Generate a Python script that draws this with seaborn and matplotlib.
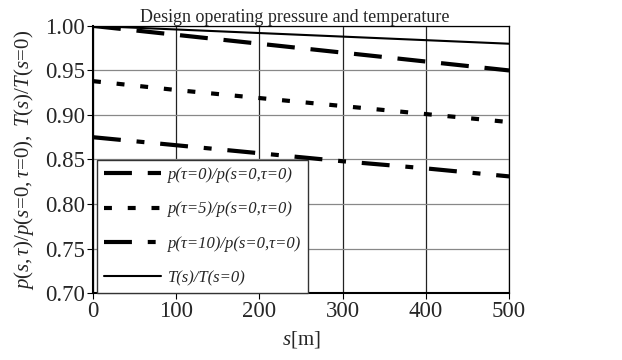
import pandas as pd
import matplotlib.pyplot as plt
import seaborn as sns

# distance along pipeline [m]
s_m = [0, 100, 200, 300, 400, 500]
p_tau0 = [1.000, 0.990, 0.980, 0.970, 0.960, 0.950]
p_tau5 = [0.938, 0.928, 0.919, 0.910, 0.901, 0.892]
p_tau10 = [0.875, 0.866, 0.857, 0.848, 0.840, 0.831]
t_ratio = [1.000, 0.996, 0.992, 0.988, 0.984, 0.980]

labels = ['p(τ=0)/p(s=0,τ=0)', 'p(τ=5)/p(s=0,τ=0)', 'p(τ=10)/p(s=0,τ=0)', 'T(s)/T(s=0)']

sns.set_style('ticks')
plt.rcParams['font.family'] = ['Liberation Serif', 'DejaVu Serif']
plt.rcParams['mathtext.fontset'] = 'custom'
plt.rcParams['mathtext.rm'] = 'Liberation Serif'
plt.rcParams['mathtext.it'] = 'Liberation Serif:italic'

fig = plt.figure(figsize=(6.22, 3.6), dpi=100)
ax = fig.add_axes([0.1495, 0.186, 0.669, 0.742])

styles = [
    dict(lw=3.0, dashes=(6.7, 3.8)),
    dict(lw=3.0, dashes=(1.9, 3.8)),
    dict(lw=3.0, dashes=(6.7, 3.8, 1.9, 3.8)),
    dict(lw=1.5, dashes=()),
]
for vals, lab, st in zip([p_tau0, p_tau5, p_tau10, t_ratio], labels, styles):
    df = pd.DataFrame({'s': s_m, 'v': vals})
    sns.lineplot(data=df, x='s', y='v', ax=ax, color='black', lw=st['lw'], label=lab)
    ln = ax.get_lines()[-1]
    if st['dashes']:
        ln.set_dashes(st['dashes'])
    ln.set_dash_capstyle('butt')

ax.set_xlim(0, 500)
ax.set_ylim(0.70, 1.00)
ax.set_xticks([0, 100, 200, 300, 400, 500])
ax.set_yticks([0.70, 0.75, 0.80, 0.85, 0.90, 0.95, 1.00])
ax.set_yticklabels([f'{v:.2f}' for v in ax.get_yticks()])
ax.tick_params(labelsize=16.5, direction='out', length=4, color='black', pad=2)
ax.xaxis.grid(True, color='#222222', lw=0.9)
ax.yaxis.grid(True, color='#888888', lw=0.9)
ax.set_axisbelow(True)
for sp in ax.spines.values():
    sp.set_color('black')
    sp.set_linewidth(0.9)
ax.spines['left'].set_linewidth(1.5)
ax.spines['bottom'].set_linewidth(1.5)

ax.set_xlabel('$s$[m]', fontsize=15, labelpad=5)
ax.set_ylabel(r'$p(s,\tau)/p(s\!=\!0,\tau\!=\!0),\ T(s)/T(s\!=\!0)$', fontsize=15, labelpad=6)
ax.set_title('Design operating pressure and temperature', fontsize=13, pad=2, x=0.485)

leg = ax.legend(loc='lower left', bbox_to_anchor=(0.0096, 0.0), borderaxespad=0, frameon=True,
                fancybox=False, edgecolor='#333333', framealpha=1,
                prop={'style': 'italic', 'size': 12},
                handlelength=3.4, labelspacing=1.1, borderpad=0.42, handletextpad=0.45)
leg.get_frame().set_linewidth(1.0)

fig.savefig('out.png', dpi=100)
